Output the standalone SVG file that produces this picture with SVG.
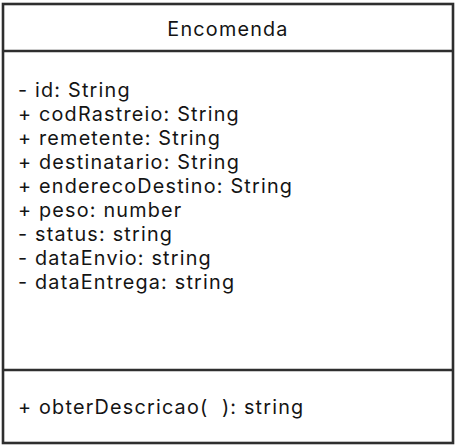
<svg xmlns="http://www.w3.org/2000/svg" width="458" height="446" viewBox="0 0 458 446">
<style>
.box{fill:#ffffff;stroke:#2e2e2e;stroke-width:2.6}
.div{stroke:#2e2e2e;stroke-width:2.6}
.t{font-family:Inter,"Noto Sans","Liberation Sans",sans-serif;font-size:19.8px;letter-spacing:1.2px;fill:#141414;white-space:pre}
</style>
<rect width="458" height="446" fill="#ffffff"/>
<g id="Encomenda">
<rect class="box" x="3" y="4" width="450" height="439"/>
<line class="div" x1="3" y1="51" x2="453" y2="51"/>
<line class="div" x1="3" y1="370" x2="453" y2="370"/>
<text class="t" x="228" y="36" text-anchor="middle">Encomenda</text>
<text class="t" x="18" y="97"><tspan x="18" y="97">- id: String</tspan><tspan x="18" y="121">+ codRastreio: String</tspan><tspan x="18" y="145">+ remetente: String</tspan><tspan x="18" y="169">+ destinatario: String</tspan><tspan x="18" y="193">+ enderecoDestino: String</tspan><tspan x="18" y="217">+ peso: number</tspan><tspan x="18" y="241">- status: string</tspan><tspan x="18" y="265">- dataEnvio: string</tspan><tspan x="18" y="289">- dataEntrega: string</tspan></text>
<text class="t" x="18" y="414" xml:space="preserve">+ obterDescricao(  ): string</text>
</g>
<g id="connectors"/>
</svg>
